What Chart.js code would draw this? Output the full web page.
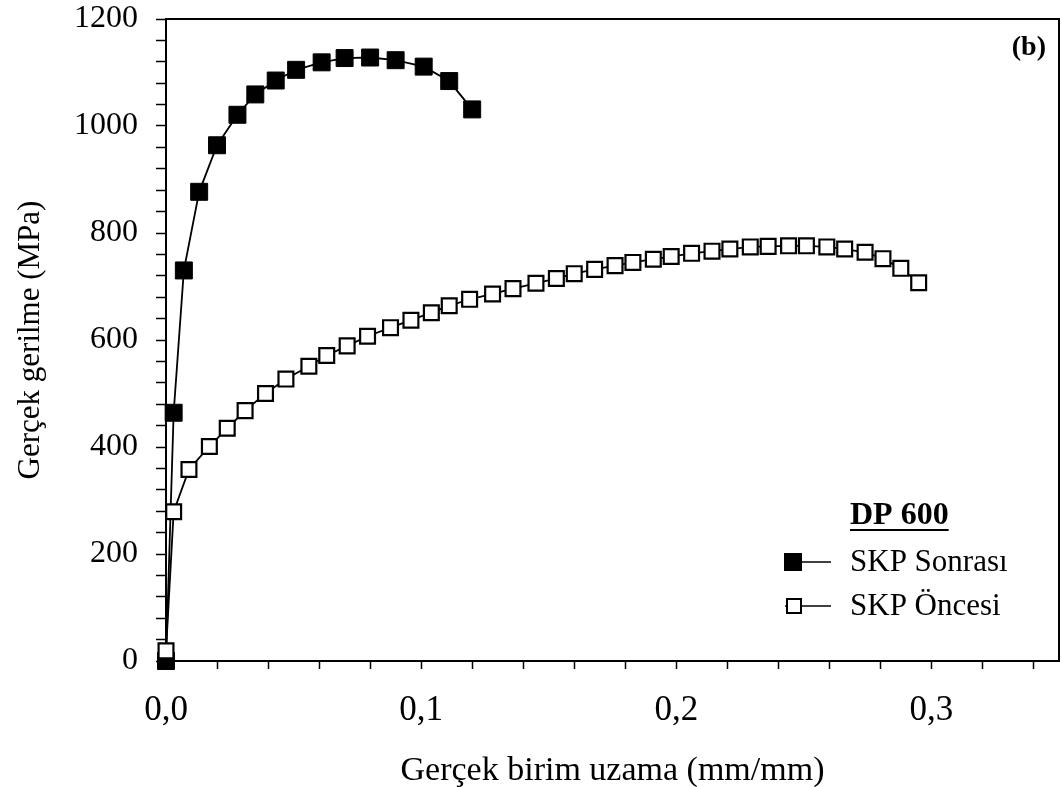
<!DOCTYPE html>
<html>
<head>
<meta charset="utf-8">
<script src="https://cdn.jsdelivr.net/npm/chart.js@4/dist/chart.umd.min.js"></script>
<style>
  html, body { margin: 0; padding: 0; background: #fff; overflow: hidden; }
  #wrap { width: 1062px; height: 787px; position: relative; }
</style>
</head>
<body>
<div id="wrap"><canvas id="strain-chart"></canvas></div>
<script>
// SKP Sonrası (dolu kare)
const strainAfter = [0, 0.003, 0.007, 0.013, 0.020, 0.028, 0.035, 0.043, 0.051, 0.061, 0.070, 0.080, 0.090, 0.101, 0.111, 0.120];
const stressAfter = [0, 464, 730, 877, 964, 1021, 1059, 1085, 1105, 1119, 1127, 1128, 1123, 1111, 1084, 1031];

// SKP Öncesi (boş kare)
const strainBefore = [0, 0.003, 0.009, 0.017, 0.024, 0.031, 0.039, 0.047, 0.056, 0.063, 0.071, 0.079, 0.088, 0.096,
  0.104, 0.111, 0.119, 0.128, 0.136, 0.145, 0.153, 0.160, 0.168, 0.176, 0.183, 0.191, 0.198, 0.206, 0.214, 0.221,
  0.229, 0.236, 0.244, 0.251, 0.259, 0.266, 0.274, 0.281, 0.288, 0.295];
const stressBefore = [19, 279, 358, 401, 435, 468, 500, 527, 551, 571, 589, 607, 623, 637, 651, 664, 676, 686, 696,
  706, 715, 724, 732, 739, 745, 751, 756, 762, 766, 770, 774, 775, 776, 776, 774, 770, 764, 752, 734, 707];

const xMajor = [0, 0.1, 0.2, 0.3];
const yMajor = [0, 200, 400, 600, 800, 1000, 1200];
const seriesNames = ["SKP Sonrası", "SKP Öncesi"];
const groupTitle = "DP 600";
const panelTag = "(b)";

const serif = "'Liberation Serif', 'Times New Roman', serif";

function toPoints(xs, ys) {
  return xs.map((x, i) => ({ x: x, y: ys[i] }));
}

// top and right edges of the box
const frame = {
  id: 'frame',
  afterDraw(chart) {
    const { ctx, chartArea: a } = chart;
    ctx.save();
    ctx.strokeStyle = '#000';
    ctx.lineWidth = 2;
    ctx.beginPath();
    ctx.moveTo(a.left, a.top);
    ctx.lineTo(a.right, a.top);
    ctx.lineTo(a.right, a.bottom);
    ctx.stroke();
    ctx.restore();
  }
};

const sideLegend = {
  id: 'sideLegend',
  afterDraw(chart) {
    const { ctx, chartArea: a } = chart;
    ctx.save();
    ctx.fillStyle = '#000';
    ctx.strokeStyle = '#000';

    // (b)
    ctx.font = 'bold 28px ' + serif;
    ctx.textAlign = 'right';
    ctx.textBaseline = 'middle';
    ctx.fillText(panelTag, a.right - 13, a.top + 29);

    // DP 600
    const tx = a.left + 684;
    ctx.font = 'bold 32px ' + serif;
    ctx.textAlign = 'left';
    ctx.textBaseline = 'alphabetic';
    ctx.fillText(groupTitle, tx, 524);
    const w = ctx.measureText(groupTitle).width;
    ctx.lineWidth = 2;
    ctx.beginPath();
    ctx.moveTo(tx, 530);
    ctx.lineTo(tx + w, 530);
    ctx.stroke();

    // entries
    const rows = [562, 606];
    ctx.font = '31px ' + serif;
    ctx.textBaseline = 'middle';
    rows.forEach((y, i) => {
      ctx.lineWidth = 1.6;
      ctx.beginPath();
      ctx.moveTo(785, y);
      ctx.lineTo(831, y);
      ctx.stroke();
      ctx.lineWidth = 2;
      if (i === 0) {
        ctx.fillRect(784, y - 9, 18, 18);
      } else {
        ctx.fillStyle = '#fff';
        ctx.fillRect(787, y - 7, 14, 14);
        ctx.strokeRect(787, y - 7, 14, 14);
        ctx.fillStyle = '#000';
      }
      ctx.fillText(seriesNames[i], tx, y + 1);
    });
    ctx.restore();
  }
};

new Chart(document.getElementById('strain-chart'), {
  type: 'scatter',
  data: {
    datasets: [{
      label: seriesNames[0],
      data: toPoints(strainAfter, stressAfter),
      showLine: true,
      borderColor: '#000',
      borderWidth: 1.8,
      backgroundColor: '#000',
      pointStyle: 'rect',
      pointRadius: 12,
      pointBorderWidth: 1,
      pointBorderColor: '#000',
      pointBackgroundColor: '#000',
      tension: 0,
      clip: false,
      order: 2
    }, {
      label: seriesNames[1],
      data: toPoints(strainBefore, stressBefore),
      showLine: true,
      borderColor: '#000',
      borderWidth: 1.8,
      backgroundColor: '#fff',
      pointStyle: 'rect',
      pointRadius: 10.5,
      pointBorderWidth: 2.2,
      pointBorderColor: '#000',
      pointBackgroundColor: '#fff',
      tension: 0,
      clip: false,
      order: 1
    }]
  },
  options: {
    responsive: true,
    maintainAspectRatio: false,
    animation: false,
    layout: { autoPadding: false, padding: { top: 19, right: 3, left: 0, bottom: 0 } },
    plugins: {
      legend: { display: false },
      tooltip: { enabled: false }
    },
    scales: {
      x: {
        type: 'linear',
        min: 0,
        max: 0.35,
        afterFit(scale) {
          scale.height = 126;
          scale.paddingLeft = 0;
          scale.paddingRight = 0;
        },
        border: { color: '#000', width: 2 },
        grid: { drawOnChartArea: false, tickLength: 8, tickColor: '#000', tickWidth: 1.5 },
        ticks: {
          stepSize: 0.02,
          includeBounds: false,
          autoSkip: false,
          maxRotation: 0,
          padding: 21,
          color: '#000',
          font: { family: serif, size: 35 },
          callback(v) {
            const hit = xMajor.find(m => Math.abs(m - v) < 1e-6);
            return hit === undefined ? '' : hit.toFixed(1).replace('.', ',');
          }
        },
        title: {
          display: true,
          text: 'Gerçek birim uzama (mm/mm)',
          color: '#000',
          font: { family: serif, size: 34 },
          padding: { top: 0, bottom: -4 }
        }
      },
      y: {
        type: 'linear',
        min: 0,
        max: 1200,
        afterFit(scale) {
          scale.width = 166;
          scale.paddingTop = 0;
          scale.paddingBottom = 0;
        },
        border: { color: '#000', width: 2 },
        grid: { drawOnChartArea: false, tickLength: 10, tickColor: '#000', tickWidth: 1.5 },
        ticks: {
          stepSize: 40,
          autoSkip: false,
          padding: 18,
          color: '#000',
          font: { family: serif, size: 32 },
          callback(v) {
            return yMajor.includes(v) ? String(v) : '';
          }
        },
        title: {
          display: true,
          text: 'Gerçek gerilme (MPa)',
          color: '#000',
          font: { family: serif, size: 31 },
          padding: { top: 12, bottom: 0 }
        }
      }
    }
  },
  plugins: [frame, sideLegend]
});
</script>
</body>
</html>
